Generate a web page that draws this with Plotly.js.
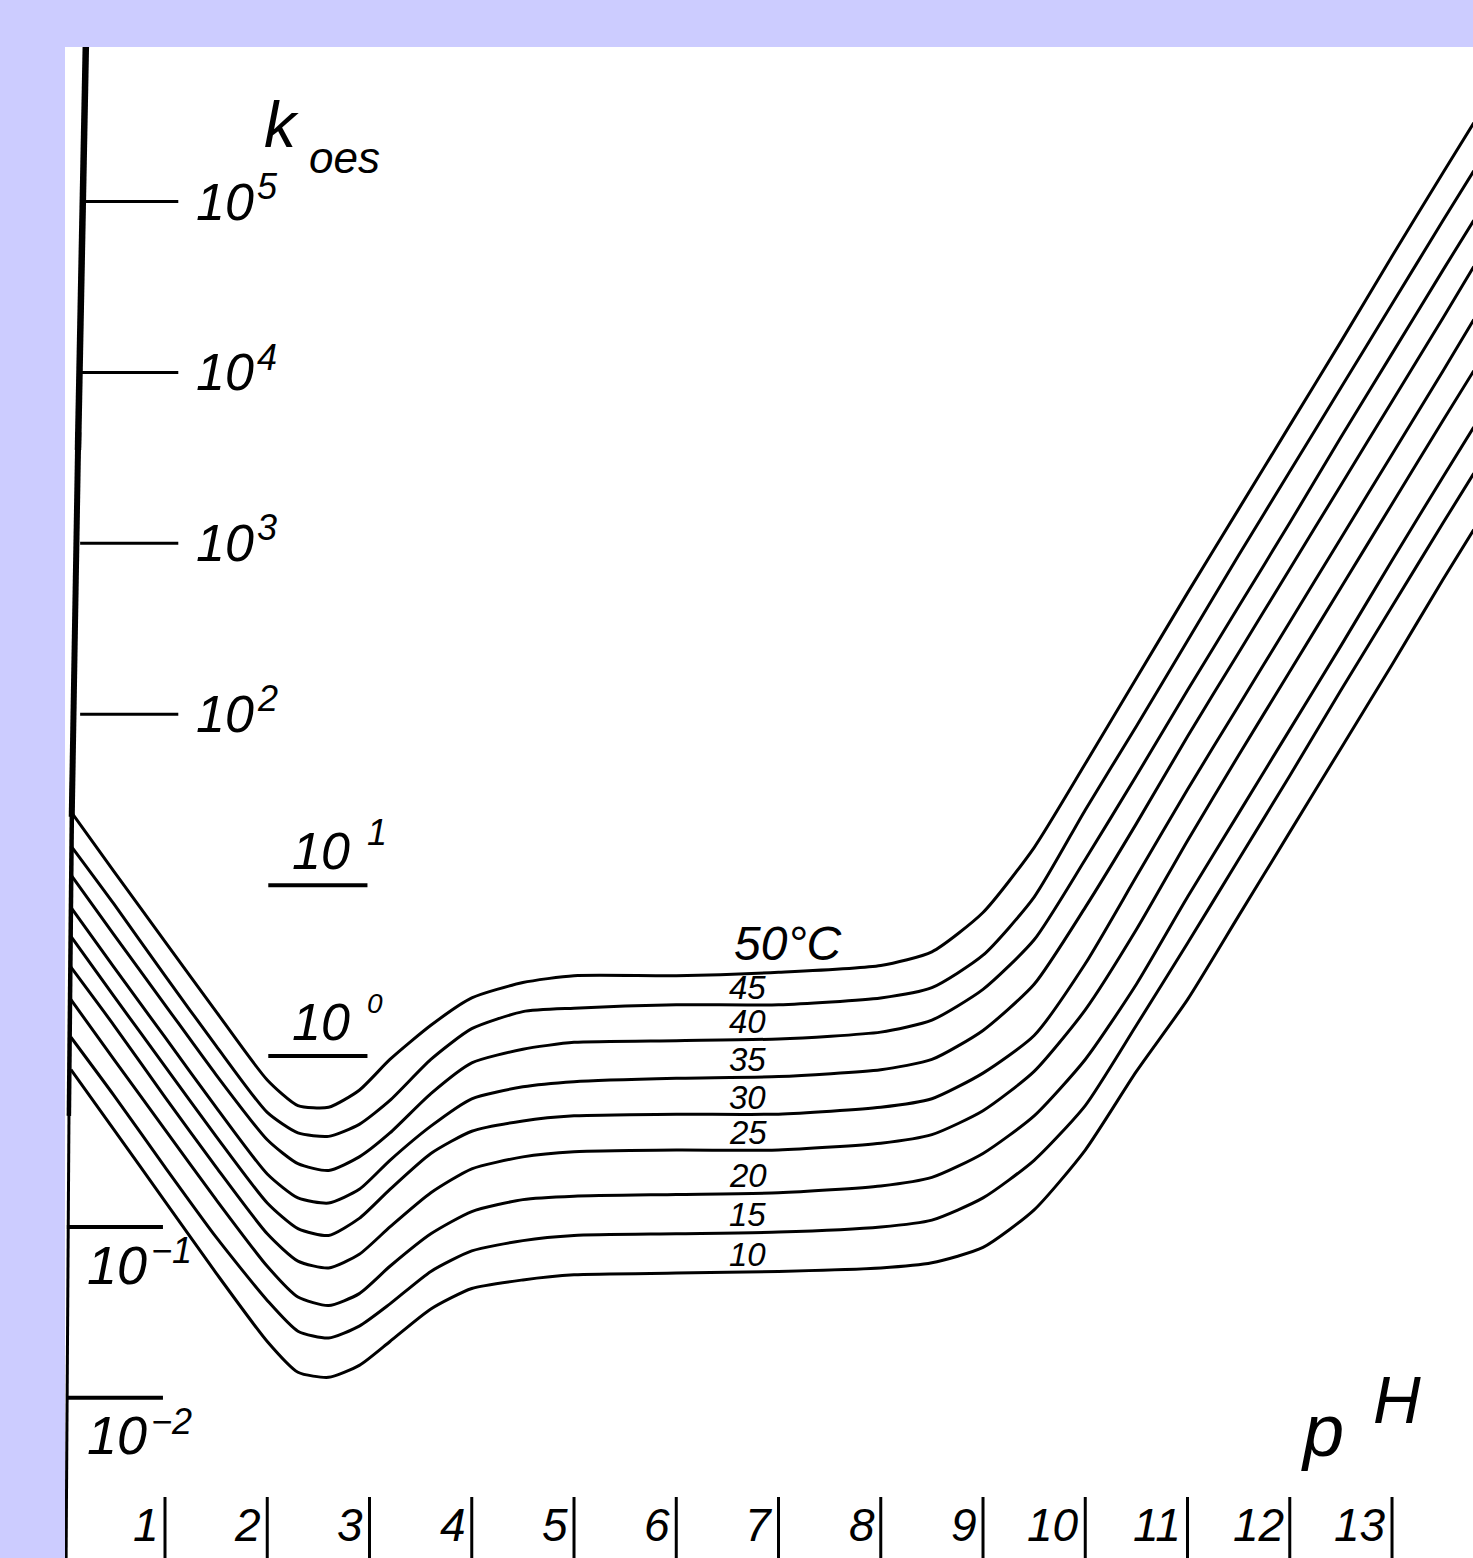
<!DOCTYPE html>
<html>
<head>
<meta charset="utf-8">
<script src="https://cdn.plot.ly/plotly-3.0.1.min.js"></script>
<style>
html,body{margin:0;padding:0;background:#ccccff;overflow:hidden}
#chart{width:1473px;height:1558px}
</style>
</head>
<body>
<div id="chart"></div>
<script>
// ---------------- DATA ----------------
// pH values at which each curve was read
const pH = [0.08, 0.5, 1.0, 1.5, 2.0, 2.3, 2.6, 2.9, 3.2, 3.6, 4.0, 4.5, 5.0, 6.0, 7.0, 8.0, 8.5, 9.0, 9.5, 10.0, 10.5, 11.0, 11.5, 12.0, 12.5, 13.0, 13.5, 13.8];

// temperature of each curve (°C), top to bottom
const temperatures = ['50', '45', '40', '35', '30', '25', '20', '15', '10'];

// log10 of k_oes for each temperature
const logK50 = [1.43, 1.08, 0.67, 0.26, -0.14, -0.29, -0.30, -0.20, -0.02, 0.18, 0.34, 0.43, 0.47, 0.47, 0.49, 0.53, 0.61, 0.84, 1.22, 1.71, 2.21, 2.71, 3.20, 3.69, 4.18, 4.68, 5.17, 5.46];
const logK45 = [1.23, 0.89, 0.47, 0.06, -0.33, -0.45, -0.47, -0.40, -0.26, -0.02, 0.16, 0.26, 0.28, 0.30, 0.30, 0.34, 0.40, 0.59, 0.93, 1.44, 1.93, 2.43, 2.93, 3.42, 3.91, 4.40, 4.89, 5.18];
const logK40 = [1.06, 0.71, 0.30, -0.11, -0.49, -0.63, -0.67, -0.59, -0.45, -0.22, -0.04, 0.04, 0.08, 0.09, 0.10, 0.14, 0.21, 0.39, 0.68, 1.15, 1.64, 2.14, 2.63, 3.12, 3.62, 4.11, 4.60, 4.89];
const logK35 = [0.87, 0.52, 0.11, -0.30, -0.69, -0.83, -0.86, -0.78, -0.61, -0.41, -0.25, -0.18, -0.15, -0.13, -0.12, -0.08, -0.02, 0.15, 0.42, 0.87, 1.36, 1.87, 2.36, 2.85, 3.34, 3.83, 4.32, 4.62];
const logK30 = [0.70, 0.35, -0.06, -0.47, -0.86, -1.01, -1.05, -0.95, -0.78, -0.57, -0.44, -0.38, -0.35, -0.34, -0.34, -0.30, -0.25, -0.10, 0.12, 0.54, 1.05, 1.56, 2.05, 2.54, 3.03, 3.52, 4.01, 4.31];
const logK25 = [0.52, 0.18, -0.24, -0.65, -1.04, -1.20, -1.24, -1.16, -1.00, -0.80, -0.66, -0.59, -0.56, -0.55, -0.55, -0.51, -0.46, -0.32, -0.09, 0.27, 0.74, 1.26, 1.76, 2.25, 2.74, 3.23, 3.72, 4.01];
const logK20 = [0.33, -0.02, -0.43, -0.84, -1.23, -1.41, -1.46, -1.39, -1.23, -1.04, -0.91, -0.84, -0.82, -0.81, -0.80, -0.76, -0.71, -0.57, -0.35, -0.02, 0.42, 0.93, 1.42, 1.91, 2.40, 2.90, 3.39, 3.68];
const logK15 = [0.11, -0.23, -0.65, -1.06, -1.43, -1.61, -1.65, -1.58, -1.45, -1.26, -1.14, -1.08, -1.05, -1.04, -1.03, -1.00, -0.96, -0.83, -0.61, -0.29, 0.18, 0.66, 1.15, 1.64, 2.14, 2.63, 3.12, 3.41];
const logK10 = [-0.08, -0.43, -0.85, -1.27, -1.67, -1.85, -1.88, -1.81, -1.67, -1.48, -1.36, -1.31, -1.28, -1.27, -1.26, -1.24, -1.21, -1.12, -0.90, -0.55, -0.09, 0.33, 0.82, 1.31, 1.80, 2.29, 2.79, 3.08];

// y-axis decades (exponents of 10) and their labels
const yTickExp = [5, 4, 3, 2, 1, 0, -1, -2];
const yTickExpLabels = ['5', '4', '3', '2', '1', '0', '\u22121', '\u22122'];
const yTickBase = '10';

// x-axis (pH) ticks and labels
const xTicks = [1, 2, 3, 4, 5, 6, 7, 8, 9, 10, 11, 12, 13];
const xTickLabels = ['1', '2', '3', '4', '5', '6', '7', '8', '9', '10', '11', '12', '13'];

const yTitleMain = 'k';
const yTitleSub = 'oes';
const xTitle = 'pH';

// ---------------- BUILD ----------------
const curves = [logK50, logK45, logK40, logK35, logK30, logK25, logK20, logK15, logK10];
const FONT = 'Liberation Sans, Arial, sans-serif';
const it = t => '<i>' + t + '</i>';
const p10 = v => Math.pow(10, v);

const traces = curves.map((lk, i) => ({
  type: 'scatter',
  mode: 'lines',
  name: temperatures[i] + ' °C',
  x: pH,
  y: lk.map(p10),
  line: {color: '#000', width: 3, shape: 'spline', smoothing: 0.6},
  hoverinfo: 'skip',
  showlegend: false
}));

const shapes = [];
const annotations = [];
// annotations on a log axis take log10 positions
const ann = (x, ly, text, size, xanchor) => annotations.push({
  x: x, y: ly, xref: 'x', yref: 'y', text: it(text), showarrow: false,
  xanchor: xanchor || 'center', yanchor: 'middle', borderpad: 0, borderwidth: 0,
  font: {family: FONT, size: size, color: '#000'}
});
// shapes take data values: convert from decades
const seg = (x0, ly0, x1, ly1, w) => shapes.push({
  type: 'line', xref: 'x', yref: 'y', x0: x0, y0: p10(ly0), x1: x1, y1: p10(ly1),
  line: {color: '#000', width: w}
});

// hand-drawn vertical axis (slightly slanted, thick at top, thinner below)
seg(0.227, 5.95, 0.149, 3.546, 6.5);
seg(0.152, 3.65, 0.088, 1.40, 6);
seg(0.092, 1.60, 0.060, -0.35, 4.5);
seg(0.063, -0.15, 0.032, -3.0, 3);

// y ticks + labels (three drawing styles in the original)
yTickExp.forEach((e, i) => {
  const lbl = yTickExpLabels[i];
  if (e >= 2) {
    seg(0.17, e, 1.13, e, 3);
    ann(1.30, e, yTickBase, 52, 'left');
    ann(1.90, e + 0.09, lbl, 36, 'left');
  } else if (e >= 0) {
    seg(2.01, e, 2.98, e, 4);
    ann(2.245, e + 0.20, yTickBase, 52, 'left');
    ann(2.98, e + 0.31, lbl, e === 0 ? 28 : 36, 'left');
  } else {
    seg(0.04, e, 0.98, e, 4);
    ann(0.24, e - 0.22, yTickBase, 54, 'left');
    ann(0.86, e - 0.14, lbl, 36, 'left');
  }
});

// x ticks (vertical bars) + labels at the bottom
xTicks.forEach((v, i) => {
  seg(v, -3.0, v, -2.58, 3);
  ann(v - 0.06, -2.745, xTickLabels[i], 46, 'right');
});

// axis titles
ann(2.144, 5.448, yTitleMain, 64);
ann(2.76, 5.255, yTitleSub, 44);
ann(12.32, -2.19, xTitle.charAt(0), 74);
ann(13.05, -2.013, xTitle.charAt(1), 66);

// curve labels (temperatures), placed just above each curve at pH ~7
curves.forEach((lk, i) => {
  if (i === 0) ann(7.09, lk[14] + 0.17, temperatures[i] + '°C', 48);
  else ann(6.70, lk[14] + 0.10, temperatures[i], 33);
});

const layout = {
  width: 1473, height: 1558,
  margin: {l: 65, r: 0, t: 47, b: 0, pad: 0},
  paper_bgcolor: '#ccccff',
  plot_bgcolor: '#ffffff',
  showlegend: false,
  xaxis: {range: [0.022, 13.792], visible: false, showgrid: false, zeroline: false, fixedrange: true},
  yaxis: {type: 'log', range: [-2.937, 5.904], visible: false, showgrid: false, zeroline: false, fixedrange: true},
  shapes: shapes,
  annotations: annotations
};

Plotly.newPlot('chart', traces, layout, {displayModeBar: false, staticPlot: true});
</script>
</body>
</html>
